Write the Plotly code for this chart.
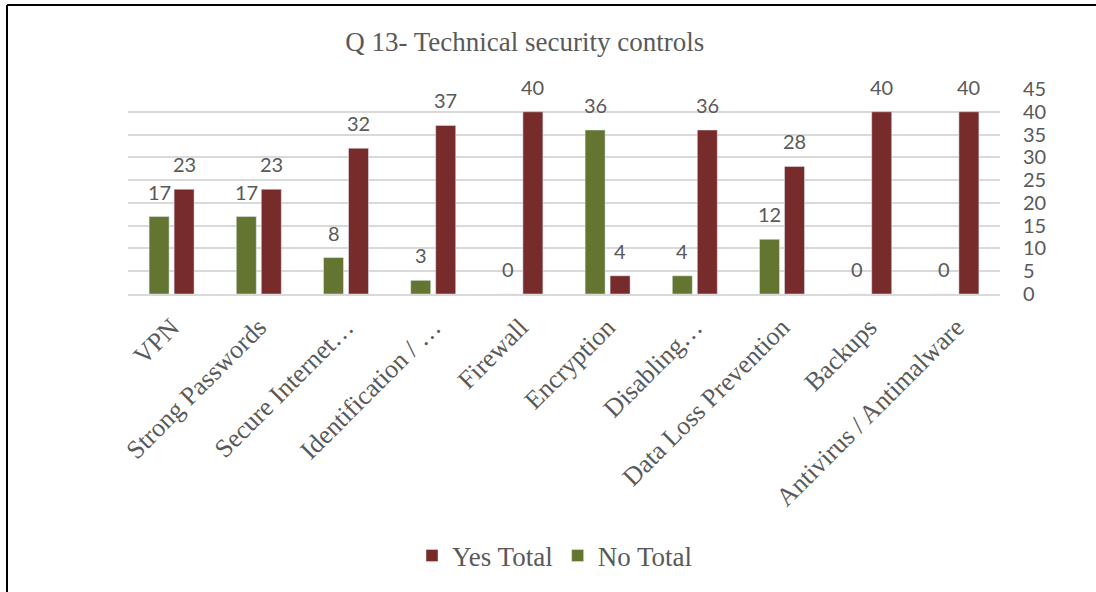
import plotly.graph_objects as go

categories = ["VPN", "Strong Passwords", "Secure Internet…", "Identification / …",
              "Firewall", "Encryption", "Disabling…", "Data Loss Prevention",
              "Backups", "Antivirus / Antimalware"]
no_total = [17, 17, 8, 3, 0, 36, 4, 12, 0, 0]
yes_total = [23, 23, 32, 37, 40, 4, 36, 28, 40, 40]
y_ticks = [0, 5, 10, 15, 20, 25, 30, 35, 40, 45]

title_text = "Q 13- Technical security controls"
RED = "#772B2B"
GREEN = "#637530"
TXT = "#595959"
GRID = "#D9D9D9"
SERIF = "Liberation Serif, Times New Roman, serif"
SANS = "Lato, Open Sans, sans-serif"

W, H = 1096, 592
ML, MR, MT, MB = 128, 96, 89, 298

fig = go.Figure()
fig.add_trace(go.Bar(x=categories, y=no_total, name="No Total",
                     marker=dict(color=GREEN), legendrank=2))
fig.add_trace(go.Bar(x=categories, y=yes_total, name="Yes Total",
                     marker=dict(color=RED), legendrank=1))

annotations = []
for series, shift in ((no_total, -12.5), (yes_total, 12.5)):
    for cat, v in zip(categories, series):
        annotations.append(dict(x=cat, y=v, xref="x", yref="y", text=str(v),
                                showarrow=False, xshift=shift, yshift=25,
                                yanchor="middle",
                                font=dict(family=SANS, size=20, color=TXT)))

pw = W - ML - MR
ph = H - MT - MB
fx = lambda px: (px - ML) / pw
fy = lambda py: (H - MB - py) / ph

shapes = [
    dict(type="line", xref="paper", yref="paper", x0=fx(7), x1=fx(1100), y0=fy(5), y1=fy(5),
         line=dict(color="black", width=2)),
    dict(type="line", xref="paper", yref="paper", x0=fx(7), x1=fx(7), y0=fy(5), y1=fy(600),
         line=dict(color="black", width=2)),
]

fig.update_layout(
    width=W, height=H,
    margin=dict(l=ML, r=MR, t=MT, b=MB, pad=0),
    paper_bgcolor="white", plot_bgcolor="white",
    barmode="group", bargap=0.4266, bargroupgap=0.2,
    title=dict(text=title_text, x=524.7 / W, xanchor="center",
               y=1 - 42 / H, yanchor="middle",
               font=dict(family=SERIF, size=27, color=TXT)),
    legend=dict(orientation="h", x=fx(555), xanchor="center", y=fy(556), yanchor="middle",
                font=dict(family=SERIF, size=27, color=TXT), bgcolor="rgba(0,0,0,0)",
                itemwidth=30),
    annotations=annotations,
    shapes=shapes,
    xaxis=dict(type="category", tickangle=-45, ticks="", showgrid=False,
               showline=True, linecolor=GRID, linewidth=1.5,
               tickfont=dict(family=SERIF, size=26, color=TXT), ticklabelstandoff=6),
    yaxis=dict(side="right", range=[0, 45], tickvals=y_ticks, showgrid=True,
               gridcolor=GRID, gridwidth=1.5, zeroline=False, showline=False, ticks="",
               tickfont=dict(family=SANS, size=20, color=TXT), ticklabelstandoff=22),
)

fig.write_html("out.html")
